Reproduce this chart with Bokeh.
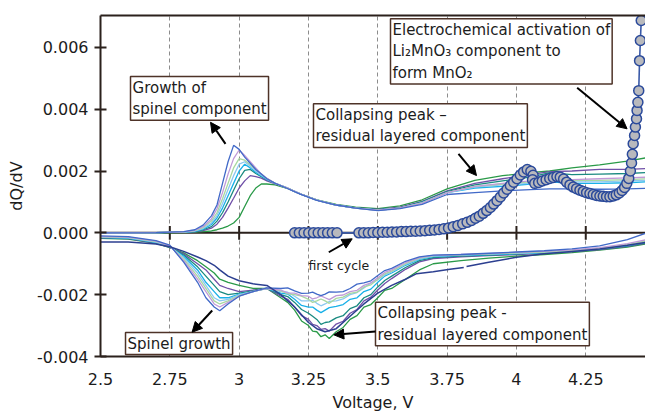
from bokeh.plotting import figure
from bokeh.models import (Range1d, LinearAxis, FixedTicker, Span, Label,
                          Arrow, NormalHead, ColumnDataSource)
from bokeh.embed import file_html
from bokeh.resources import INLINE

NAN = float("nan")

# ---- axis ticks -------------------------------------------------------------
X_TICKS = [2.5, 2.75, 3.0, 3.25, 3.5, 3.75, 4.0, 4.25]
X_TICK_LABELS = ["2.5", "2.75", "3", "3.25", "3.5", "3.75", "4", "4.25"]
Y_TICKS = [-0.004, -0.002, 0.0, 0.002, 0.004, 0.006]
Y_TICK_LABELS = ["-0.004", "-0.002", "0.000", "0.002", "0.004", "0.006"]

# ---- charge (positive dQ/dV), cycles after the first --------------------------
V_CHARGE = [2.50, 2.70, 2.80, 2.84, 2.87, 2.90, 2.92, 2.94, 2.96, 2.98,
            3.00, 3.02, 3.04, 3.06, 3.08, 3.10, 3.13, 3.17, 3.22, 3.28,
            3.35, 3.42, 3.50, 3.58, 3.66, 3.75, 3.85, 3.95, 4.05, 4.12,
            4.20, 4.30, 4.40, 4.47]

CH_BLUE = [0.0, 0.00001, 0.00004, 0.0001, 0.00025, 0.00055, 0.0009, 0.0016, 0.0023, 0.00283,
           0.0027, 0.00245, 0.00225, 0.00205, 0.0019, 0.00175, 0.0016, 0.00145, 0.00125, 0.00105,
           0.0009, 0.0008, 0.00072, 0.00078, 0.00092, 0.00124, 0.0013, 0.00136, 0.0014, 0.00142,
           0.00142, 0.00141, 0.00142, 0.00144]
CH_LAVENDER = [0.0, 0.00001, 0.00003, 0.00008, 0.0002, 0.00045, 0.00078, 0.0013, 0.0019, 0.0024,
               0.00268, 0.0025, 0.0023, 0.0021, 0.0019, 0.00176, 0.0016, 0.00146, 0.00126, 0.00106,
               0.0009, 0.0008, 0.00073, 0.0008, 0.00096, 0.0013, 0.0015, 0.0016, 0.00168, 0.00178,
               0.00172, 0.00175, 0.00178, 0.0018]
CH_LIGHTGREEN = [0.0, 0.00001, 0.00003, 0.00007, 0.00017, 0.00038, 0.00065, 0.0011, 0.0016, 0.0021,
                 0.0024, 0.00235, 0.0022, 0.00205, 0.0019, 0.00176, 0.0016, 0.00146, 0.00126, 0.00106,
                 0.0009, 0.0008, 0.00073, 0.0008, 0.00097, 0.0013, 0.0015, 0.00158, 0.00165, 0.00172,
                 0.0017, 0.0017, 0.00172, 0.00175]
CH_LIGHTBLUE = [0.0, 0.00001, 0.00002, 0.00006, 0.00014, 0.00032, 0.00056, 0.00095, 0.0014, 0.00185,
                0.00222, 0.0023, 0.00215, 0.002, 0.00186, 0.00174, 0.0016, 0.00146, 0.00126, 0.00106,
                0.0009, 0.0008, 0.00073, 0.0008, 0.00097, 0.0013, 0.00148, 0.00155, 0.0016, 0.00168,
                0.00165, 0.00165, 0.00168, 0.0017]
CH_CYAN = [0.0, 0.00001, 0.00002, 0.00005, 0.00012, 0.00027, 0.00048, 0.0008, 0.0012, 0.0016,
           0.002, 0.00222, 0.0021, 0.00196, 0.00184, 0.00173, 0.0016, 0.00146, 0.00126, 0.00106,
           0.0009, 0.0008, 0.00074, 0.0008, 0.00098, 0.0013, 0.00145, 0.0015, 0.00158, 0.00165,
           0.0016, 0.0016, 0.00162, 0.00165]
CH_TEAL = [0.0, 0.00001, 0.00002, 0.00004, 0.0001, 0.0002, 0.00038, 0.00065, 0.001, 0.00138,
           0.00175, 0.00202, 0.00205, 0.00192, 0.00182, 0.00172, 0.0016, 0.00146, 0.00126, 0.00106,
           0.0009, 0.00081, 0.00075, 0.00081, 0.001, 0.00133, 0.00155, 0.00168, 0.0018, 0.00195,
           0.00188, 0.0019, 0.00192, 0.00195]
CH_PURPLE = [0.0, 0.00001, 0.00002, 0.00003, 0.00007, 0.00015, 0.00028, 0.0005, 0.0008, 0.00112,
             0.00145, 0.00168, 0.00185, 0.00182, 0.00177, 0.00168, 0.00158, 0.00146, 0.00126, 0.00106,
             0.0009, 0.00081, 0.00076, 0.00083, 0.00102, 0.00136, 0.0016, 0.00175, 0.00188, 0.00198,
             0.002, 0.00205, 0.00205, 0.00208]
CH_GREEN = [0.0, 0.0, 0.00001, 0.00002, 0.00004, 0.00006, 0.0001, 0.00015, 0.00022, 0.00032,
            0.0005, 0.00085, 0.0012, 0.00145, 0.00158, 0.00158, 0.00155, 0.00145, 0.00126, 0.00107,
            0.00092, 0.00083, 0.00078, 0.00087, 0.00107, 0.00142, 0.0017, 0.00185, 0.00195, 0.002,
            0.0021, 0.0022, 0.00232, 0.00243]

# ---- discharge (negative dQ/dV) ---------------------------------------------
V_DISCHARGE = [2.50, 2.60, 2.70, 2.75, 2.80, 2.85, 2.88, 2.91, 2.93, 2.96,
               3.00, 3.05, 3.10, 3.15, 3.175, 3.20, 3.225, 3.25, 3.265, 3.28,
               3.295, 3.31, 3.325, 3.35, 3.375, 3.40, 3.425, 3.45, 3.475, 3.50,
               3.525, 3.55, 3.60, 3.65, 3.70, 3.80, 3.90, 4.00, 4.10, 4.20,
               4.30, 4.40, 4.47]

DIS_BLUE = [-0.0001, -0.00012, -0.00025, -0.0004, -0.00095, -0.0016, -0.0021, -0.0024, -0.00252, -0.0023,
            -0.00205, -0.0019, -0.00178, -0.0018, -0.00178, -0.00188, -0.00196, -0.00195, -0.00192, -0.00198,
            -0.00203, -0.00198, -0.00191, -0.00192, -0.0019, -0.0018, -0.00166, -0.00162, -0.00155, -0.00138,
            -0.00122, -0.00115, -0.00092, -0.00078, -0.00072, -0.0007, -0.00066, -0.00062, -0.00058, -0.00052,
            -0.00042, -0.00022, 0.0]
DIS_LAVENDER = [-0.00012, -0.00014, -0.00027, -0.00042, -0.0009, -0.0015, -0.0019, -0.0023, -0.0024, -0.00225,
                -0.00205, -0.0019, -0.0018, -0.00185, -0.00194, -0.00195, -0.00203, -0.00205, -0.00214, -0.0021,
                -0.00204, -0.0021, -0.00216, -0.00203, -0.00201, -0.0019, -0.00186, -0.0017, -0.00162, -0.00145,
                -0.00128, -0.0012, -0.00096, -0.0008, -0.00073, -0.0007, -0.00067, -0.00063, -0.0006, -0.00055,
                -0.00048, -0.00035, -0.00022]
DIS_LIGHTGREEN = [-0.00013, -0.00015, -0.00028, -0.00043, -0.00085, -0.0014, -0.0018, -0.0022, -0.0023, -0.0022,
                  -0.00203, -0.0019, -0.0018, -0.00188, -0.00197, -0.002, -0.00205, -0.00215, -0.00225, -0.0022,
                  -0.00214, -0.0022, -0.00228, -0.00212, -0.00208, -0.00196, -0.00192, -0.00175, -0.00168, -0.0015,
                  -0.00133, -0.00124, -0.001, -0.00082, -0.00074, -0.00071, -0.00068, -0.00065, -0.00062, -0.00057,
                  -0.0005, -0.00038, -0.00026]
DIS_LIGHTBLUE = [-0.00014, -0.00016, -0.0003, -0.00044, -0.0008, -0.0013, -0.0017, -0.0021, -0.0022, -0.00215,
                 -0.002, -0.0019, -0.0018, -0.0019, -0.00192, -0.00205, -0.0022, -0.0022, -0.00218, -0.00228,
                 -0.00236, -0.0023, -0.00222, -0.0022, -0.00214, -0.002, -0.00193, -0.00178, -0.00162, -0.00152,
                 -0.00136, -0.00126, -0.00102, -0.00084, -0.00075, -0.00072, -0.00069, -0.00066, -0.00063, -0.00058,
                 -0.00051, -0.0004, -0.00028]
DIS_CYAN = [-0.00015, -0.00017, -0.00031, -0.00045, -0.00076, -0.0012, -0.0016, -0.0019, -0.0021, -0.0021,
            -0.00198, -0.0019, -0.0018, -0.00195, -0.00198, -0.00215, -0.00235, -0.0024, -0.0024, -0.0025,
            -0.00258, -0.0025, -0.00242, -0.00238, -0.00232, -0.00215, -0.0021, -0.0019, -0.00182, -0.0016,
            -0.0014, -0.0013, -0.00105, -0.00086, -0.00077, -0.00073, -0.0007, -0.00067, -0.00064, -0.00059,
            -0.00052, -0.00041, -0.0003]
DIS_TEAL = [-0.00016, -0.00018, -0.00032, -0.00046, -0.00072, -0.0011, -0.0014, -0.0017, -0.0019, -0.002,
            -0.00195, -0.00188, -0.0018, -0.002, -0.00206, -0.00225, -0.00248, -0.0026, -0.0027, -0.0028,
            -0.00296, -0.0029, -0.00288, -0.00275, -0.00268, -0.00245, -0.00236, -0.0021, -0.002, -0.00175,
            -0.00154, -0.0014, -0.00112, -0.0009, -0.0008, -0.00075, -0.00072, -0.00068, -0.00065, -0.0006,
            -0.00053, -0.00042, -0.00031]
DIS_PURPLE = [-0.00017, -0.00019, -0.00033, -0.00047, -0.00068, -0.001, -0.0012, -0.0015, -0.0017, -0.0018,
              -0.0019, -0.00185, -0.0018, -0.00205, -0.00215, -0.0024, -0.00268, -0.0028, -0.00296, -0.003,
              -0.00312, -0.0031, -0.00318, -0.00295, -0.00286, -0.0026, -0.00248, -0.0022, -0.00208, -0.00185,
              -0.00164, -0.00148, -0.00118, -0.00094, -0.00083, -0.00078, -0.00074, -0.0007, -0.00066, -0.00061,
              -0.00054, -0.00044, -0.00033]
DIS_GREEN = [-0.00018, -0.0002, -0.00034, -0.00048, -0.00065, -0.0009, -0.0011, -0.0013, -0.0015, -0.0016,
             -0.0017, -0.0018, -0.0018, -0.0021, -0.00225, -0.0025, -0.00285, -0.003, -0.00318, -0.0032,
             -0.00336, -0.0033, -0.00342, -0.0032, -0.00306, -0.0028, -0.00268, -0.0024, -0.00232, -0.0021,
             -0.00186, -0.0018, -0.0015, -0.0012, -0.001, -0.0009, -0.00082, -0.00075, -0.0007, -0.00064,
             -0.00056, -0.00046, -0.00035]

# first discharge has its own voltage grid (the trace is broken near 3.81 V)
V_DIS_FIRST = [2.50, 2.60, 2.70, 2.75, 2.80, 2.85, 2.88, 2.91, 2.93, 2.96,
               3.00, 3.05, 3.10, 3.15, 3.20, 3.25, 3.28, 3.31, 3.35, 3.40,
               3.45, 3.50, 3.55, 3.60, 3.64, 3.70, 3.76, 3.81, 3.815, 3.82,
               3.90, 4.00, 4.10, 4.20, 4.30, 4.40, 4.47]
DIS_FIRST = [-0.0003, -0.0003, -0.00036, -0.00045, -0.0006, -0.00078, -0.0009, -0.00105, -0.0012, -0.0014,
             -0.00155, -0.00165, -0.0017, -0.002, -0.0024, -0.0029, -0.0031, -0.0032, -0.0031, -0.0027,
             -0.0023, -0.00195, -0.0017, -0.0015, -0.00132, -0.00126, -0.00118, -0.00112, NAN, -0.00109,
             -0.00095, -0.00079, -0.00068, -0.0006, -0.00052, -0.0004, -0.0003]

# ---- first charge (Li2MnO3 activation), drawn with markers ------------------
FIRST_CHARGE = [
    (3.200, 0.0), (3.217, 0.0), (3.234, 0.0), (3.251, 0.0), (3.268, 0.0),
    (3.285, 0.0), (3.302, 0.0), (3.319, 0.0), (3.336, 0.0), (3.353, 0.0),
    (3.432, 0.0), (3.449, 0.0), (3.466, 0.0), (3.483, 0.00001), (3.500, 0.00001),
    (3.517, 0.00002), (3.534, 0.00002), (3.551, 0.00003), (3.568, 0.00003), (3.585, 0.00004),
    (3.602, 0.00004), (3.619, 0.00005), (3.636, 0.00005), (3.653, 0.00006), (3.670, 0.00007),
    (3.687, 0.00008), (3.704, 0.00009), (3.721, 0.00011), (3.738, 0.00013),
    (3.755, 0.00016), (3.772, 0.0002), (3.789, 0.00024), (3.806, 0.00029), (3.822, 0.00034),
    (3.838, 0.0004), (3.852, 0.00047), (3.866, 0.00054), (3.880, 0.00063), (3.893, 0.00072),
    (3.906, 0.00082), (3.918, 0.00093), (3.930, 0.00104), (3.942, 0.00116), (3.954, 0.00129),
    (3.966, 0.00141), (3.978, 0.00153), (3.990, 0.00164), (4.002, 0.00175), (4.014, 0.00187),
    (4.026, 0.00197), (4.039, 0.00205), (4.052, 0.00199), (4.060, 0.00186), (4.058, 0.00172),
    (4.066, 0.0016), (4.080, 0.00163), (4.093, 0.00168), (4.107, 0.00172), (4.120, 0.00176),
    (4.133, 0.00179), (4.146, 0.00182), (4.158, 0.0018), (4.170, 0.00174), (4.181, 0.00164),
    (4.193, 0.00155), (4.205, 0.00148), (4.217, 0.00143), (4.229, 0.00138), (4.241, 0.00134),
    (4.253, 0.0013), (4.265, 0.00127), (4.277, 0.00124), (4.289, 0.00121), (4.301, 0.00119),
    (4.313, 0.00118), (4.325, 0.00117), (4.337, 0.00117), (4.349, 0.00119), (4.360, 0.00123),
    (4.371, 0.00129), (4.381, 0.00137), (4.390, 0.00147), (4.398, 0.0016), (4.405, 0.00176),
    (4.411, 0.002), (4.415, 0.00226), (4.418, 0.00254), (4.421, 0.00288), (4.426, 0.00315),
    (4.429, 0.00342), (4.433, 0.00369), (4.435, 0.00396), (4.438, 0.00422), (4.441, 0.0046),
    (4.444, 0.00557), (4.447, 0.00622), (4.450, 0.00687), (4.452, 0.0075),
]

SPINE = "#2b211c"
TEXT = "#1c1c1c"
BOX_EDGE = "#4e3328"
FONT = "DejaVu Sans"

COLORS = {
    "blue": "#4169c8", "lavender": "#c09ad8", "lightgreen": "#a8d8a0",
    "lightblue": "#8cc8f0", "cyan": "#18b0e8", "teal": "#1a8a80",
    "purple": "#7050a8", "green": "#2a9a48", "navy": "#2c3f90",
}

p = figure(width=645, height=414,
           x_range=Range1d(2.5, 4.4654), y_range=Range1d(-0.004, 0.00703),
           output_backend="svg", toolbar_location=None,
           min_border_left=100, min_border_right=0,
           min_border_top=15, min_border_bottom=58,
           background_fill_color="white", border_fill_color="white")
p.outline_line_color = None

# dashed vertical guides at each voltage tick
p.xgrid.ticker = FixedTicker(ticks=X_TICKS)
p.xgrid.grid_line_color = "#8c8c8c"
p.xgrid.grid_line_dash = "4 3"
p.xgrid.grid_line_width = 1
p.ygrid.grid_line_color = None

# bottom axis: labels only, plain frame line
xa = p.xaxis[0]
xa.ticker = FixedTicker(ticks=X_TICKS)
xa.major_label_overrides = dict(zip(X_TICKS, X_TICK_LABELS))
xa.major_tick_line_color = None
xa.minor_tick_line_color = None
xa.major_tick_in = 0
xa.major_tick_out = 0
xa.major_label_standoff = 16
xa.axis_line_color = SPINE
xa.axis_line_width = 2
xa.major_label_text_font = FONT
xa.major_label_text_font_size = "16px"
xa.major_label_text_color = TEXT
xa.axis_label = "Voltage, V"
xa.axis_label_text_font = FONT
xa.axis_label_text_font_size = "16px"
xa.axis_label_text_font_style = "normal"
xa.axis_label_text_color = TEXT
xa.axis_label_standoff = 5

# left axis with crossing ticks
ya = p.yaxis[0]
ya.ticker = FixedTicker(ticks=Y_TICKS)
ya.major_label_overrides = dict(zip(Y_TICKS, Y_TICK_LABELS))
ya.minor_tick_line_color = None
ya.major_tick_in = 6
ya.major_tick_out = 6
ya.major_tick_line_width = 2
ya.major_tick_line_color = SPINE
ya.major_label_standoff = 6
ya.axis_line_color = SPINE
ya.axis_line_width = 2
ya.major_label_text_font = FONT
ya.major_label_text_font_size = "16px"
ya.major_label_text_color = TEXT
ya.axis_label = "dQ/dV"
ya.axis_label_text_font = FONT
ya.axis_label_text_font_size = "16px"
ya.axis_label_text_font_style = "normal"
ya.axis_label_text_color = TEXT
ya.axis_label_standoff = 8

# top frame line
top = LinearAxis(ticker=FixedTicker(ticks=[]), axis_line_color=SPINE, axis_line_width=2,
                 major_tick_line_color=None, minor_tick_line_color=None,
                 major_tick_in=0, major_tick_out=0, major_label_text_font_size="0px")
p.add_layout(top, "above")

# zero line with crossing ticks
p.add_layout(Span(location=0, dimension="width", line_color=SPINE, line_width=2, level="underlay"))
zero_ticks = X_TICKS[1:]
p.segment(x0=zero_ticks, y0=[-0.00022] * len(zero_ticks), x1=zero_ticks,
          y1=[0.00022] * len(zero_ticks), line_color=SPINE, line_width=2)

# discharge traces
dis_series = [
    (DIS_GREEN, "green"), (DIS_PURPLE, "purple"), (DIS_TEAL, "teal"),
    (DIS_CYAN, "cyan"), (DIS_LIGHTBLUE, "lightblue"), (DIS_LIGHTGREEN, "lightgreen"),
    (DIS_LAVENDER, "lavender"), (DIS_BLUE, "blue"),
]
for ys, c in dis_series:
    p.line(V_DISCHARGE, ys, line_color=COLORS[c], line_width=1.3)
p.line(V_DIS_FIRST, DIS_FIRST, line_color=COLORS["navy"], line_width=1.5)

# charge traces
ch_series = [
    (CH_GREEN, "green"), (CH_PURPLE, "purple"), (CH_TEAL, "teal"),
    (CH_CYAN, "cyan"), (CH_LIGHTBLUE, "lightblue"), (CH_LIGHTGREEN, "lightgreen"),
    (CH_LAVENDER, "lavender"), (CH_BLUE, "blue"),
]
for ys, c in ch_series:
    p.line(V_CHARGE, ys, line_color=COLORS[c], line_width=1.3)

# first charge with circle markers
fc = ColumnDataSource(data=dict(v=[a for a, _ in FIRST_CHARGE], q=[b for _, b in FIRST_CHARGE]))
p.line("v", "q", source=fc, line_color="#3a5aa8", line_width=1.6)
p.scatter("v", "q", source=fc, marker="circle", size=10,
          fill_color="#b8b9bd", line_color="#2b4a9b", line_width=1.5)


def boxed(x, y, text, size="15px"):
    return Label(x=x, y=y, text=text, text_font=FONT, text_font_size=size,
                 text_color=TEXT, text_align="left", text_baseline="top",
                 background_fill_color="white", border_line_color=BOX_EDGE,
                 border_line_width=1.5, padding=2)


def arrow(x0, y0, x1, y1):
    return Arrow(x_start=x0, y_start=y0, x_end=x1, y_end=y1, line_width=2,
                 line_color="black",
                 end=NormalHead(size=10, fill_color="black", line_color="black"))


p.add_layout(boxed(2.6082, 0.005056, "Growth of\nspinel component"))
p.add_layout(boxed(3.2681, 0.004173, "Collapsing peak \u2013\nresidual layered component"))
p.add_layout(boxed(3.5458, 0.006922,
                   "Electrochemical activation of\nLi\u2082MnO\u2083 component to\nform MnO\u2082"))
p.add_layout(boxed(3.4917, -0.002245, "Collapsing peak -\nresidual layered component"))
p.add_layout(boxed(2.5902, -0.003225, "Spinel growth"))
p.add_layout(Label(x=3.2501, y=-0.0008, text="first cycle", text_font=FONT,
                   text_font_size="12.5px", text_color=TEXT, text_align="left",
                   text_baseline="top"))

p.add_layout(arrow(2.9508, 0.002879, 2.8967, 0.003577))
p.add_layout(arrow(3.791, 0.002555, 3.856, 0.001853))
p.add_layout(arrow(4.219, 0.00469, 4.399, 0.003364))
p.add_layout(arrow(3.3233, -0.000628, 3.4077, -0.000194))
p.add_layout(arrow(3.4917, -0.003193, 3.3413, -0.003299))
p.add_layout(arrow(2.9028, -0.002513, 2.8303, -0.003215))

open("out.html", "w").write(file_html(p, INLINE))
